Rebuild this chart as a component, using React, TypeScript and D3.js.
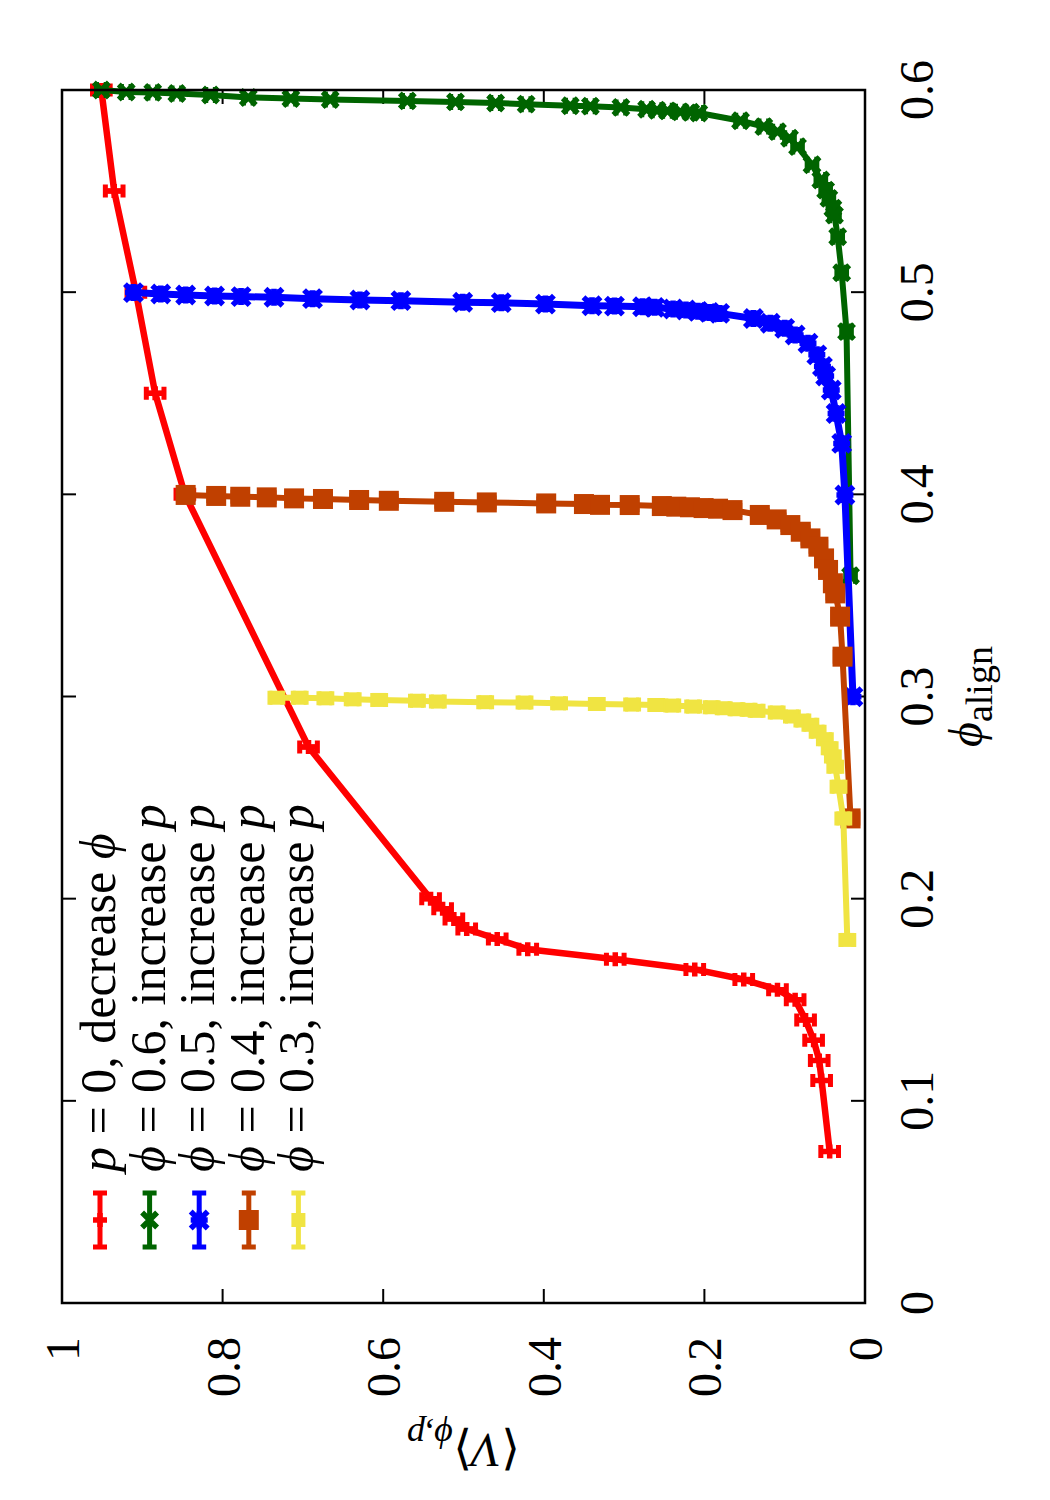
import React from "react";
import * as d3 from "d3";

const phiTicks = [0, 0.1, 0.2, 0.3, 0.4, 0.5, 0.6];
const vTicks = [0, 0.2, 0.4, 0.6, 0.8, 1];

/* p = 0, decrease phi */
const redPhi = [0.6, 0.55, 0.5, 0.45, 0.4, 0.275, 0.2, 0.195, 0.19, 0.185, 0.18, 0.175, 0.17, 0.165, 0.16, 0.155, 0.15, 0.14, 0.13, 0.12, 0.11, 0.075];
const redV = [0.951, 0.935, 0.908, 0.884, 0.847, 0.693, 0.541, 0.526, 0.512, 0.496, 0.458, 0.42, 0.311, 0.212, 0.151, 0.109, 0.087, 0.074, 0.064, 0.057, 0.054, 0.044];
const redErr = 0.011;

/* phi = 0.6, increase p */
const greenPhi = [0.6, 0.599, 0.5988, 0.5983, 0.5975, 0.5963, 0.5958, 0.5953, 0.5946, 0.5941, 0.5936, 0.593, 0.5922, 0.592, 0.5914, 0.5905, 0.59, 0.5897, 0.5892, 0.589, 0.5886, 0.5848, 0.5819, 0.5794, 0.5761, 0.572, 0.563, 0.5555, 0.5505, 0.5464, 0.5415, 0.5381, 0.5274, 0.5096, 0.4805, 0.3597];
const greenV = [0.951, 0.92, 0.887, 0.857, 0.815, 0.768, 0.715, 0.666, 0.57, 0.51, 0.46, 0.422, 0.367, 0.342, 0.304, 0.272, 0.259, 0.246, 0.23, 0.217, 0.207, 0.155, 0.126, 0.109, 0.094, 0.084, 0.066, 0.055, 0.049, 0.045, 0.04, 0.038, 0.034, 0.029, 0.023, 0.018];
const greenErr = 0.006;

/* phi = 0.5, increase p */
const bluePhi = [0.4998, 0.4991, 0.4986, 0.4981, 0.4978, 0.4975, 0.4968, 0.4961, 0.4958, 0.495, 0.4948, 0.4941, 0.4933, 0.4931, 0.4928, 0.4925, 0.4917, 0.4912, 0.4905, 0.49, 0.4895, 0.487, 0.4846, 0.4821, 0.4788, 0.4747, 0.469, 0.4632, 0.4585, 0.4516, 0.44, 0.4252, 0.3997, 0.2999];
const blueV = [0.911, 0.877, 0.846, 0.81, 0.777, 0.736, 0.688, 0.629, 0.578, 0.501, 0.453, 0.398, 0.34, 0.312, 0.277, 0.262, 0.239, 0.223, 0.208, 0.194, 0.181, 0.139, 0.118, 0.1, 0.087, 0.071, 0.06, 0.053, 0.049, 0.042, 0.036, 0.029, 0.025, 0.015];
const blueErr = 0.006;

/* phi = 0.4, increase p */
const orangePhi = [0.3997, 0.3992, 0.3988, 0.3985, 0.398, 0.3977, 0.3972, 0.3968, 0.3963, 0.396, 0.3955, 0.3952, 0.3948, 0.3947, 0.3942, 0.3939, 0.3936, 0.3932, 0.3929, 0.3922, 0.3898, 0.3876, 0.3848, 0.3815, 0.3782, 0.3741, 0.3683, 0.3626, 0.356, 0.351, 0.3395, 0.3197, 0.2397];
const orangeV = [0.846, 0.808, 0.778, 0.745, 0.711, 0.675, 0.63, 0.593, 0.524, 0.471, 0.397, 0.35, 0.33, 0.293, 0.253, 0.235, 0.218, 0.201, 0.183, 0.165, 0.131, 0.11, 0.093, 0.08, 0.068, 0.058, 0.051, 0.046, 0.04, 0.037, 0.031, 0.028, 0.018];
const orangeErr = 0.009;

/* phi = 0.3, increase p */
const yellowPhi = [0.2994, 0.2994, 0.2991, 0.2986, 0.2983, 0.2979, 0.2975, 0.2972, 0.297, 0.2966, 0.2963, 0.296, 0.2958, 0.2955, 0.295, 0.2947, 0.2942, 0.2937, 0.2934, 0.2929, 0.2921, 0.2901, 0.2881, 0.286, 0.2826, 0.2789, 0.2744, 0.2703, 0.2653, 0.2554, 0.2397, 0.1796];
const yellowV = [0.733, 0.704, 0.672, 0.638, 0.605, 0.558, 0.532, 0.473, 0.424, 0.381, 0.334, 0.29, 0.26, 0.24, 0.214, 0.191, 0.176, 0.16, 0.145, 0.135, 0.11, 0.091, 0.078, 0.068, 0.059, 0.05, 0.044, 0.04, 0.037, 0.033, 0.027, 0.022];
const yellowErr = 0.008;

const W = 1050;
const H = 1500;
const FONT = "'Liberation Serif', 'Times New Roman', serif";

/* plot is laid out landscape (u across, v down) then turned a quarter turn */
const box = { left: 197, right: 1410, top: 62, bottom: 865 };
const xScale = d3.scaleLinear().domain([0, 0.6]).range([box.left, box.right]);
const yScale = d3.scaleLinear().domain([0, 1]).range([box.bottom, box.top]);

type Kind = "plus" | "cross" | "star" | "square";

const series = [
  { key: "red", phi: redPhi, v: redV, err: redErr, color: "#ff0000", kind: "plus" as Kind, size: 7, cap: 6.5, lw: 6.5 },
  { key: "green", phi: greenPhi, v: greenV, err: greenErr, color: "#006400", kind: "cross" as Kind, size: 7.5, cap: 8, lw: 6 },
  { key: "blue", phi: bluePhi, v: blueV, err: blueErr, color: "#0000ff", kind: "star" as Kind, size: 8.5, cap: 8, lw: 7 },
  { key: "orange", phi: orangePhi, v: orangeV, err: orangeErr, color: "#c04000", kind: "square" as Kind, size: 10, cap: 7, lw: 6 },
  { key: "yellow", phi: yellowPhi, v: yellowV, err: yellowErr, color: "#f0e442", kind: "square" as Kind, size: 7, cap: 7, lw: 6 },
];

const Marker = ({ kind, cx, cy, s, color }: { kind: Kind; cx: number; cy: number; s: number; color: string }) => {
  if (kind === "square") {
    return <rect x={cx - s} y={cy - s} width={2 * s} height={2 * s} fill={color} />;
  }
  let d = "";
  if (kind === "plus" || kind === "star") d += `M${cx - s},${cy}H${cx + s}M${cx},${cy - s}V${cy + s}`;
  if (kind === "cross" || kind === "star") d += `M${cx - s},${cy - s}L${cx + s},${cy + s}M${cx - s},${cy + s}L${cx + s},${cy - s}`;
  return <path d={d} stroke={color} strokeWidth={5.5} fill="none" />;
};

const ErrorBar = ({ cx, lo, hi, c, color }: { cx: number; lo: number; hi: number; c: number; color: string }) => (
  <path
    d={`M${cx},${lo}V${hi}M${cx - c},${lo}H${cx + c}M${cx - c},${hi}H${cx + c}`}
    stroke={color}
    strokeWidth={5}
    fill="none"
  />
);

const legendRows = [
  <>
    <tspan fontStyle="italic">p</tspan> = 0, decrease <tspan fontStyle="italic">ϕ</tspan>
  </>,
  <>
    <tspan fontStyle="italic">ϕ</tspan> = 0.6, increase <tspan fontStyle="italic">p</tspan>
  </>,
  <>
    <tspan fontStyle="italic">ϕ</tspan> = 0.5, increase <tspan fontStyle="italic">p</tspan>
  </>,
  <>
    <tspan fontStyle="italic">ϕ</tspan> = 0.4, increase <tspan fontStyle="italic">p</tspan>
  </>,
  <>
    <tspan fontStyle="italic">ϕ</tspan> = 0.3, increase <tspan fontStyle="italic">p</tspan>
  </>,
];

export default function App() {
  const line = d3
    .line<[number, number]>()
    .x((d) => xScale(d[0]))
    .y((d) => yScale(d[1]));

  const tick = 14;

  return (
    <svg
      width={W}
      height={H}
      style={{ position: "absolute", left: 0, top: 0, background: "#fff" }}
      fontFamily={FONT}
    >
      <rect width={W} height={H} fill="#fff" />
      <g transform={`translate(0,${H}) rotate(-90)`}>
        {/* ticks, mirrored on the opposite sides */}
        {phiTicks.map((t) => (
          <g key={`xt${t}`}>
            <line x1={xScale(t)} x2={xScale(t)} y1={box.bottom} y2={box.bottom - tick} stroke="#000" strokeWidth={2} />
            <line x1={xScale(t)} x2={xScale(t)} y1={box.top} y2={box.top + tick} stroke="#000" strokeWidth={2} />
            <text x={xScale(t)} y={933} textAnchor="middle" fontSize={48}>
              {String(t)}
            </text>
          </g>
        ))}
        {vTicks.map((t) => (
          <g key={`yt${t}`}>
            <line x1={box.left} x2={box.left + tick} y1={yScale(t)} y2={yScale(t)} stroke="#000" strokeWidth={2} />
            <line x1={box.right} x2={box.right - tick} y1={yScale(t)} y2={yScale(t)} stroke="#000" strokeWidth={2} />
            <text x={163} y={yScale(t) + 17} textAnchor="end" fontSize={48}>
              {String(t)}
            </text>
          </g>
        ))}

        {/* curves */}
        {series.map((s) => {
          const pts = s.phi.map((p, i) => [p, s.v[i]] as [number, number]);
          return (
            <g key={s.key}>
              <path d={line(pts) || ""} fill="none" stroke={s.color} strokeWidth={s.lw} strokeLinejoin="round" />
              {pts.map((p, i) => (
                <g key={i}>
                  <ErrorBar
                    cx={xScale(p[0])}
                    lo={yScale(p[1] - s.err)}
                    hi={yScale(p[1] + s.err)}
                    c={s.cap}
                    color={s.color}
                  />
                  <Marker kind={s.kind} cx={xScale(p[0])} cy={yScale(p[1])} s={s.size} color={s.color} />
                </g>
              ))}
            </g>
          );
        })}

        {/* key */}
        {series.map((s, i) => {
          const v = 100 + 49.6 * i;
          return (
            <g key={`key${s.key}`}>
              <path
                d={`M253,${v}H307M253,${v - 7}V${v + 7}M307,${v - 7}V${v + 7}`}
                stroke={s.color}
                strokeWidth={5}
                fill="none"
              />
              <Marker kind={s.kind} cx={280} cy={v} s={s.size} color={s.color} />
              <text x={328} y={v + 15} fontSize={50}>
                {legendRows[i]}
              </text>
            </g>
          );
        })}

        <rect
          x={box.left}
          y={box.top}
          width={box.right - box.left}
          height={box.bottom - box.top}
          fill="none"
          stroke="#000"
          strokeWidth={2.5}
        />

        {/* axis labels */}
        <text x={(box.left + box.right) / 2} y={982} textAnchor="middle" fontSize={48}>
          <tspan fontStyle="italic">ϕ</tspan>
          <tspan fontSize={38} dy={10}>
            align
          </tspan>
        </text>
        <text transform={`translate(66,${(box.top + box.bottom) / 2}) rotate(-90)`} textAnchor="middle" fontSize={48}>
          ⟨<tspan fontStyle="italic">V</tspan>⟩
          <tspan fontSize={36} dy={10} fontStyle="italic">
            ϕ,p
          </tspan>
        </text>
      </g>
    </svg>
  );
}
